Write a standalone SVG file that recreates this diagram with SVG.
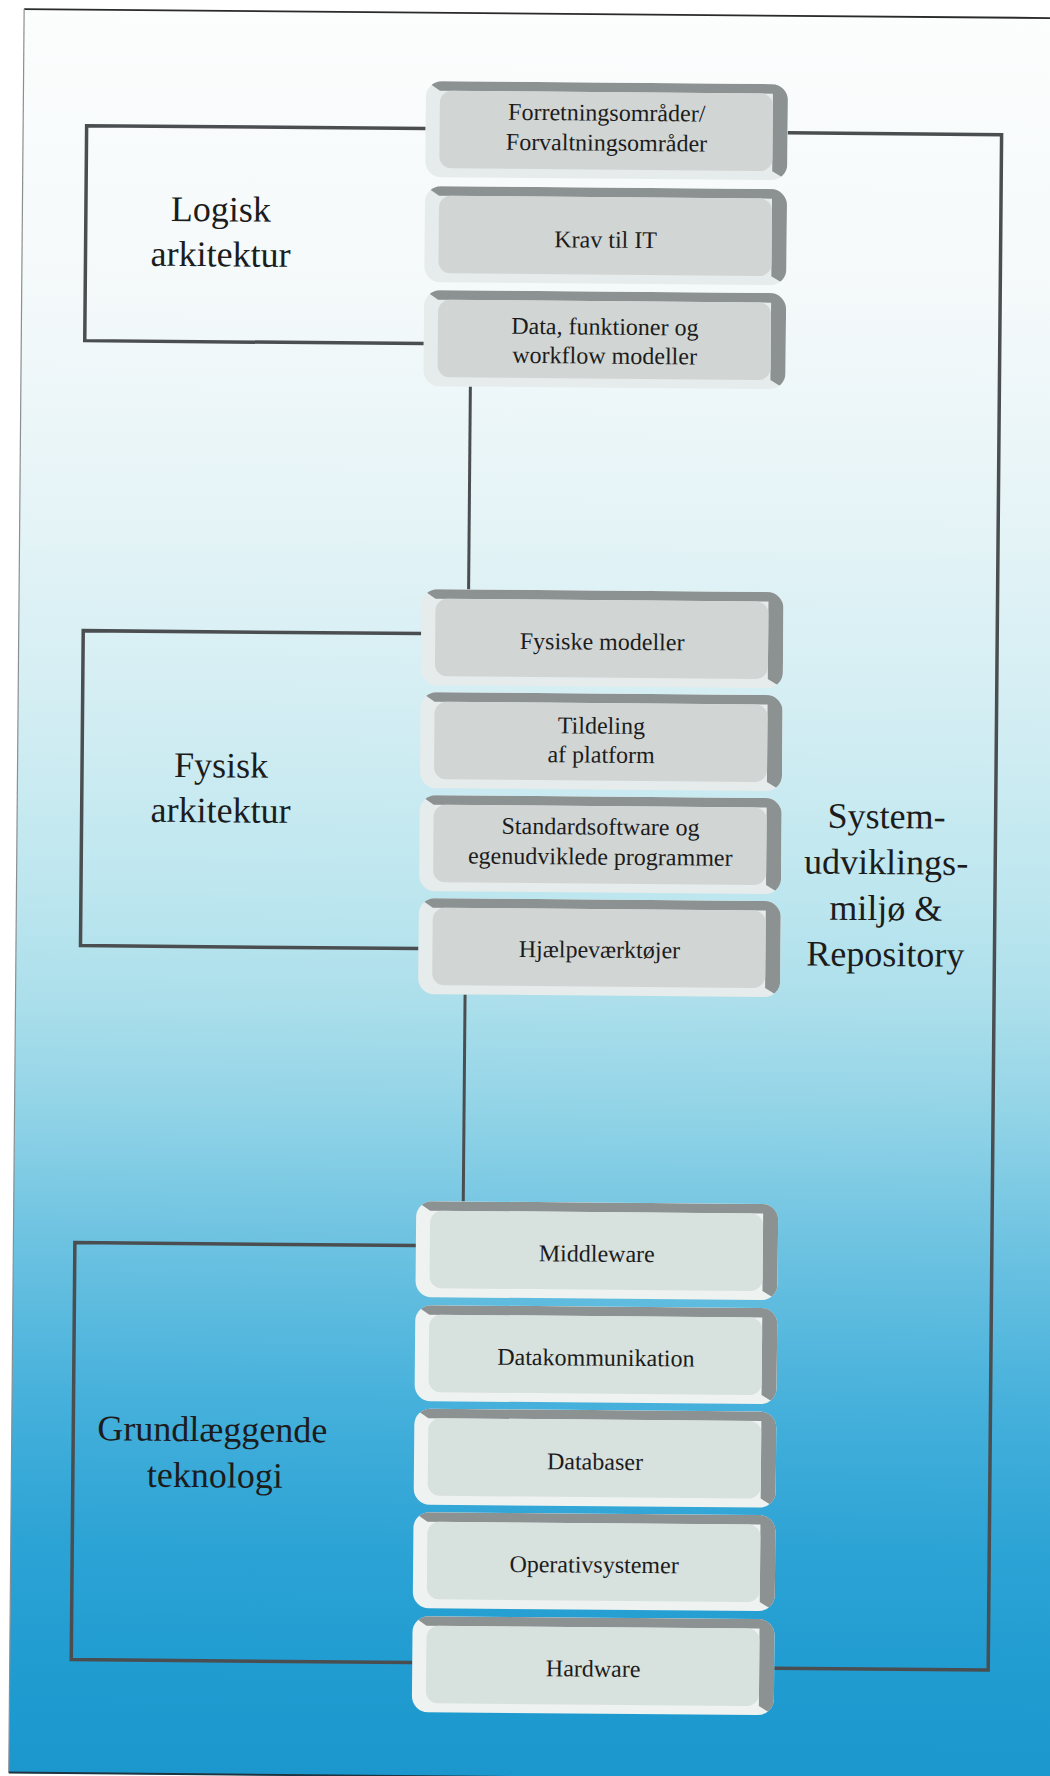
<svg xmlns="http://www.w3.org/2000/svg" xmlns:xlink="http://www.w3.org/1999/xlink" width="1050" height="1776" viewBox="0 0 1050 1776">
  <defs>
    <linearGradient id="sky" gradientUnits="userSpaceOnUse" x1="0" y1="13" x2="0" y2="1777">
      <stop offset="0" stop-color="#fcfdfd"/>
      <stop offset="0.16" stop-color="#f4f9fa"/>
      <stop offset="0.28" stop-color="#e6f4f7"/>
      <stop offset="0.39" stop-color="#d4eef3"/>
      <stop offset="0.50" stop-color="#bde6ef"/>
      <stop offset="0.56" stop-color="#acdfeb"/>
      <stop offset="0.62" stop-color="#93d4e7"/>
      <stop offset="0.70" stop-color="#6cc2e1"/>
      <stop offset="0.79" stop-color="#45b0db"/>
      <stop offset="0.87" stop-color="#2ca3d5"/>
      <stop offset="0.95" stop-color="#1f9bd0"/>
      <stop offset="1" stop-color="#1c97cd"/>
    </linearGradient>
    <clipPath id="key-clip">
      <rect x="-181" y="-48" width="362" height="96" rx="16"/>
    </clipPath>
    <!-- bevelled key: light rim left/bottom, dark rim top/right, flat face -->
    <g id="key-a">
      <rect class="rim-a" x="-181" y="-48" width="362" height="96" rx="16"/>
      <polygon class="shade" clip-path="url(#key-clip)" points="-181,-48 181,-48 181,48 166,39 166,-38.5 -167,-38.5"/>
      <rect class="face-a" x="-167" y="-38.5" width="333" height="77.5" rx="12"/>
    </g>
    <g id="key-b">
      <rect class="rim-b" x="-181" y="-48" width="362" height="96" rx="16"/>
      <polygon class="shade" clip-path="url(#key-clip)" points="-181,-48 181,-48 181,48 166,39 166,-38.5 -167,-38.5"/>
      <rect class="face-b" x="-167" y="-38.5" width="333" height="77.5" rx="12"/>
    </g>
  </defs>
  <style>
    .rim-a { fill: #e6ebeb; }
    .rim-b { fill: #eef2f1; }
    .shade { fill: #8c9192; }
    .face-a { fill: #d1d6d5; }
    .face-b { fill: #d7e1dd; }
    .wire { fill: none; stroke: #4b4e50; stroke-width: 3.5; stroke-linejoin: miter; }
    .stem { fill: none; stroke: #4b4e50; stroke-width: 3; }
    .key-text { font-family: "Liberation Serif", "Times New Roman", serif; font-size: 24px; fill: #1c1c1c; text-anchor: middle; }
    .label { font-family: "Liberation Serif", "Times New Roman", serif; font-size: 36px; fill: #1c1c1c; text-anchor: middle; }
  </style>

  <rect width="1050" height="1776" fill="#ffffff"/>

  <g transform="rotate(0.5 525 888)">
    <!-- page panel -->
    <rect x="16.5" y="13.5" width="1110" height="1764" fill="url(#sky)"/>
    <line x1="16.5" y1="13.5" x2="1126" y2="13.5" stroke="#2a2a2a" stroke-width="1.8"/>
    <line x1="16.5" y1="13.5" x2="16.5" y2="1777" stroke="#8a8f92" stroke-width="1.2"/>
    <line x1="16.5" y1="1777" x2="1126" y2="1777" stroke="#1d3440" stroke-width="2"/>

    <!-- connectors -->
    <g id="connectors">
      <path class="wire" d="M 419 129.5 H 80 V 344.5 H 419"/>
      <path class="wire" d="M 419 634.5 H 81 V 949.5 H 419"/>
      <path class="wire" d="M 419 1246.5 H 78 V 1663.5 H 419"/>
      <path class="wire" d="M 781 130.5 H 995 V 1666 H 781"/>
      <path class="stem" d="M 466 387 V 590"/>
      <path class="stem" d="M 466 995 V 1202"/>
    </g>

    <!-- section labels -->
    <g id="label-logisk">
      <text class="label" x="215" y="224">Logisk</text>
      <text class="label" x="215" y="269">arkitektur</text>
    </g>
    <g id="label-fysisk">
      <text class="label" x="220" y="780">Fysisk</text>
      <text class="label" x="220" y="825">arkitektur</text>
    </g>
    <g id="label-grundlaeggende">
      <text class="label" x="217" y="1444">Grundlæggende</text>
      <text class="label" x="220" y="1490">teknologi</text>
    </g>
    <g id="label-repository">
      <text class="label" x="886" y="825">System-</text>
      <text class="label" x="886" y="871">udviklings-</text>
      <text class="label" x="886" y="917">miljø &amp;</text>
      <text class="label" x="886" y="963">Repository</text>
    </g>

    <!-- logical architecture -->
    <g id="n-forretning">
      <use xlink:href="#key-a" x="600" y="130"/>
      <text class="key-text" x="600" y="120">Forretningsområder/</text>
      <text class="key-text" x="600" y="150">Forvaltningsområder</text>
    </g>
    <g id="n-krav">
      <use xlink:href="#key-a" x="600" y="235"/>
      <text class="key-text" x="600" y="247">Krav til IT</text>
    </g>
    <g id="n-data">
      <use xlink:href="#key-a" x="600" y="339"/>
      <text class="key-text" x="600" y="334">Data, funktioner og</text>
      <text class="key-text" x="600" y="363">workflow modeller</text>
    </g>

    <!-- physical architecture -->
    <g id="n-fysiske">
      <use xlink:href="#key-a" x="600" y="638"/>
      <text class="key-text" x="600" y="649">Fysiske modeller</text>
    </g>
    <g id="n-tildeling">
      <use xlink:href="#key-a" x="600" y="741"/>
      <text class="key-text" x="600" y="733">Tildeling</text>
      <text class="key-text" x="600" y="762">af platform</text>
    </g>
    <g id="n-standardsoftware">
      <use xlink:href="#key-a" x="600" y="844"/>
      <text class="key-text" x="600" y="834">Standardsoftware og</text>
      <text class="key-text" x="600" y="864">egenudviklede programmer</text>
    </g>
    <g id="n-hjaelpe">
      <use xlink:href="#key-a" x="600" y="947"/>
      <text class="key-text" x="600" y="957">Hjælpeværktøjer</text>
    </g>

    <!-- base technology -->
    <g id="n-middleware">
      <use xlink:href="#key-b" x="600" y="1250"/>
      <text class="key-text" x="600" y="1261">Middleware</text>
    </g>
    <g id="n-datakommunikation">
      <use xlink:href="#key-b" x="600" y="1354"/>
      <text class="key-text" x="600" y="1365">Datakommunikation</text>
    </g>
    <g id="n-databaser">
      <use xlink:href="#key-b" x="600" y="1457.5"/>
      <text class="key-text" x="600" y="1469">Databaser</text>
    </g>
    <g id="n-operativsystemer">
      <use xlink:href="#key-b" x="600" y="1561"/>
      <text class="key-text" x="600" y="1572">Operativsystemer</text>
    </g>
    <g id="n-hardware">
      <use xlink:href="#key-b" x="600" y="1665"/>
      <text class="key-text" x="600" y="1676">Hardware</text>
    </g>
  </g>
</svg>
